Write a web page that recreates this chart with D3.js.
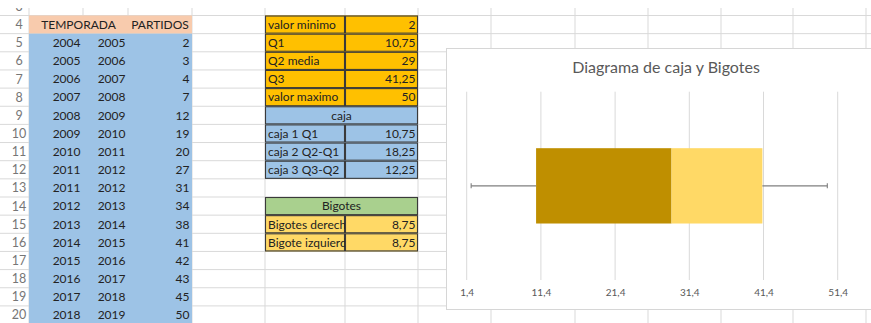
<!DOCTYPE html>
<html>
<head>
<meta charset="utf-8">
<script src="https://cdn.jsdelivr.net/npm/d3@7"></script>
<style>
  html, body { margin: 0; padding: 0; background: #fff; }
  svg { display: block; font-family: Lato, "Open Sans", sans-serif; }
</style>
</head>
<body>
<svg id="sheet" width="871" height="323"></svg>
<script>
// ---- Data --------------------------------------------------------------
const temporadaInicio = [2004, 2005, 2006, 2007, 2008, 2009, 2010, 2011, 2011, 2012, 2013, 2014, 2015, 2016, 2017, 2018];
const temporadaFin    = [2005, 2006, 2007, 2008, 2009, 2010, 2011, 2012, 2012, 2013, 2014, 2015, 2016, 2017, 2018, 2019];
const partidos        = [2, 3, 4, 7, 12, 19, 20, 27, 31, 34, 38, 41, 42, 43, 45, 50];

const resumenEtiquetas = ["valor minimo", "Q1", "Q2 media", "Q3", "valor maximo"];
const resumenValores   = [2, 10.75, 29, 41.25, 50];

const cajaEtiquetas = ["caja 1 Q1", "caja 2 Q2-Q1", "caja 3 Q3-Q2"];
const cajaValores   = [10.75, 18.25, 12.25];

const bigoteEtiquetas = ["Bigotes derecho", "Bigote izquierdo"];
const bigoteValores   = [8.75, 8.75];

const ejeTicks = [1.4, 11.4, 21.4, 31.4, 41.4, 51.4];
const tituloGrafico = "Diagrama de caja y Bigotes";

// ---- Helpers -----------------------------------------------------------
const coma = v => String(v).replace(".", ",");
const svg = d3.select("#sheet");

// Spreadsheet grid geometry
const colEdges = [0, 29, 83, 128, 192, 265, 345, 418, 491, 575, 648, 721, 793, 866, 940];
const ROW_H = 18.15;
const rowTop = r => 15.5 + (r - 4) * ROW_H;
const firstRow = 3, lastRow = 20;

const gridColor = "#d9d9d9";
const textColor = "#222";
const fontSize = 12;

// ---- Sheet gridlines -----------------------------------------------------
const grid = svg.append("g");
d3.range(firstRow, lastRow + 2).forEach(r => {
  grid.append("line").attr("x1", 0).attr("x2", 871)
    .attr("y1", rowTop(r)).attr("y2", rowTop(r))
    .attr("stroke", gridColor).attr("stroke-width", 1);
});
colEdges.slice(1).forEach(x => {
  grid.append("line").attr("x1", x).attr("x2", x)
    .attr("y1", rowTop(firstRow)).attr("y2", 323)
    .attr("stroke", gridColor).attr("stroke-width", 1);
});

// Row numbers
d3.range(firstRow, lastRow + 1).forEach(r => {
  svg.append("text").attr("x", 19).attr("y", rowTop(r) + ROW_H / 2 + 4.5)
    .attr("text-anchor", "middle").attr("fill", "#767676")
    .attr("font-size", 12.5).text(r);
});

// ---- Cell helpers ------------------------------------------------------
function fillCells(c0, c1, r0, r1, color) {
  svg.append("rect")
    .attr("x", colEdges[c0]).attr("y", rowTop(r0))
    .attr("width", colEdges[c1 + 1] - colEdges[c0])
    .attr("height", rowTop(r1 + 1) - rowTop(r0))
    .attr("fill", color);
}
function borderCells(c0, c1, r0, r1, color) {
  svg.append("rect")
    .attr("x", colEdges[c0] + 0.5).attr("y", rowTop(r0) + 0.5)
    .attr("width", colEdges[c1 + 1] - colEdges[c0] - 1)
    .attr("height", rowTop(r1 + 1) - rowTop(r0) - 1)
    .attr("fill", "none").attr("stroke", color).attr("stroke-width", 1.1);
}
let clipId = 0;
function cellText(c0, c1, r, txt, align) {
  const x0 = colEdges[c0], x1 = colEdges[c1 + 1];
  const id = "clip" + (clipId++);
  svg.append("clipPath").attr("id", id).append("rect")
    .attr("x", x0).attr("y", rowTop(r)).attr("width", x1 - x0).attr("height", ROW_H);
  const x = align === "left" ? x0 + 3 : align === "right" ? x1 - 2.5 : (x0 + x1) / 2;
  const anchor = align === "left" ? "start" : align === "right" ? "end" : "middle";
  svg.append("text").attr("clip-path", `url(#${id})`)
    .attr("x", x).attr("y", rowTop(r) + ROW_H / 2 + 4.3)
    .attr("text-anchor", anchor).attr("fill", textColor)
    .attr("font-size", fontSize).text(txt);
}

// ---- Seasons table (A4:C20) -----------------------------------------------
fillCells(1, 3, 4, 4, "#f8cbad");
fillCells(1, 3, 5, 4 + partidos.length, "#9dc3e6");
cellText(1, 2, 4, "TEMPORADA", "center");
cellText(3, 3, 4, "PARTIDOS", "center");
partidos.forEach((p, i) => {
  const r = 5 + i;
  cellText(1, 1, r, temporadaInicio[i], "right");
  cellText(2, 2, r, temporadaFin[i], "right");
  cellText(3, 3, r, p, "right");
});

// ---- Summary table (E4:F16) ------------------------------------------------
const borderColor = "#3a3a3a";
resumenEtiquetas.forEach((lab, i) => {
  const r = 4 + i;
  fillCells(5, 6, r, r, "#ffc000");
  borderCells(5, 5, r, r, borderColor);
  borderCells(6, 6, r, r, borderColor);
  cellText(5, 5, r, lab, "left");
  cellText(6, 6, r, coma(resumenValores[i]), "right");
});

fillCells(5, 6, 9, 9, "#9dc3e6");
borderCells(5, 6, 9, 9, borderColor);
cellText(5, 6, 9, "caja", "center");
cajaEtiquetas.forEach((lab, i) => {
  const r = 10 + i;
  fillCells(5, 6, r, r, "#9dc3e6");
  borderCells(5, 5, r, r, borderColor);
  borderCells(6, 6, r, r, borderColor);
  cellText(5, 5, r, lab, "left");
  cellText(6, 6, r, coma(cajaValores[i]), "right");
});

fillCells(5, 6, 14, 14, "#a9d08e");
borderCells(5, 6, 14, 14, borderColor);
cellText(5, 6, 14, "Bigotes", "center");
bigoteEtiquetas.forEach((lab, i) => {
  const r = 15 + i;
  fillCells(5, 6, r, r, "#ffd966");
  borderCells(5, 5, r, r, borderColor);
  borderCells(6, 6, r, r, borderColor);
  cellText(5, 5, r, lab, "left");
  cellText(6, 6, r, coma(bigoteValores[i]), "right");
});

// Blank band above row 3
svg.append("rect").attr("x", 0).attr("y", 0).attr("width", 871).attr("height", 8).attr("fill", "#fff");

// ---- Box-and-whisker chart -------------------------------------------------
const chart = { x: 446.5, y: 48.5, w: 440, h: 261 };
const cg = svg.append("g");
cg.append("rect").attr("x", chart.x).attr("y", chart.y)
  .attr("width", chart.w).attr("height", chart.h)
  .attr("fill", "#fff").attr("stroke", "#d6d6d6").attr("stroke-width", 1);

cg.append("text").attr("x", chart.x + chart.w / 2 - 0.5).attr("y", 73)
  .attr("text-anchor", "middle").attr("fill", "#595959")
  .attr("font-size", 16).text(tituloGrafico);

const plot = { left: 466.7, right: 837.7, top: 91.7, bottom: 280 };
const x = d3.scaleLinear().domain([ejeTicks[0], ejeTicks[ejeTicks.length - 1]])
  .range([plot.left, plot.right]);
const y = d3.scaleBand().domain(["serie"]).range([plot.top, plot.bottom])
  .paddingInner(0.6).paddingOuter(0.3);

// Vertical gridlines
cg.append("g").selectAll("line").data(ejeTicks).join("line")
  .attr("x1", d => x(d)).attr("x2", d => x(d))
  .attr("y1", plot.top).attr("y2", plot.bottom)
  .attr("stroke", "#d9d9d9").attr("stroke-width", 1);

// Axis labels (no axis line)
const axis = d3.axisBottom(x).tickValues(ejeTicks).tickFormat(coma).tickSize(0).tickPadding(0);
const axG = cg.append("g").attr("transform", `translate(0,${plot.bottom + 9})`).call(axis);
axG.select(".domain").remove();
axG.selectAll("text").attr("fill", "#595959").attr("font-size", 10)
  .attr("font-family", "Lato, 'Open Sans', sans-serif").attr("dy", "0.71em");

// Stacked segments: first segment is invisible, then Q2-Q1 and Q3-Q2
const segColors = ["none", "#bf8f00", "#ffd966"];
const starts = cajaValores.map((v, i) => d3.sum(cajaValores.slice(0, i)));
const segs = cajaValores.map((v, i) => ({ a: starts[i], b: starts[i] + v, color: segColors[i] }));
cg.append("clipPath").attr("id", "plotClip").append("rect")
  .attr("x", plot.left).attr("y", plot.top)
  .attr("width", plot.right - plot.left).attr("height", plot.bottom - plot.top);
cg.append("g").attr("clip-path", "url(#plotClip)")
  .selectAll("rect").data(segs.filter(s => s.color !== "none")).join("rect")
  .attr("x", d => x(d.a)).attr("width", d => x(d.b) - x(d.a))
  .attr("y", y("serie")).attr("height", y.bandwidth())
  .attr("fill", d => d.color);

// Whiskers as error bars: left from Q1 (minus), right from Q3 (plus)
const q1 = segs[0].b, q3 = segs[2].b;
const cy = y("serie") + y.bandwidth() / 2;
const whiskers = [
  { from: q1, to: q1 - bigoteValores[1] },
  { from: q3, to: q3 + bigoteValores[0] }
];
const wg = cg.append("g").attr("stroke", "#7f7f7f").attr("stroke-width", 1.1);
whiskers.forEach(w => {
  wg.append("line").attr("x1", x(w.from)).attr("x2", x(w.to)).attr("y1", cy).attr("y2", cy);
  wg.append("line").attr("x1", x(w.to)).attr("x2", x(w.to)).attr("y1", cy - 2.5).attr("y2", cy + 2.5);
});
</script>
</body>
</html>
